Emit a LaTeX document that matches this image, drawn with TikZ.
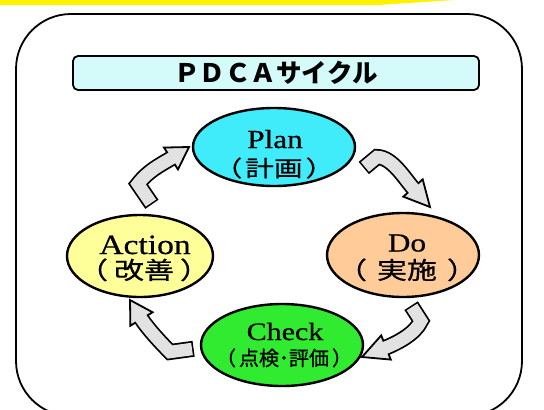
\documentclass[tikz,border=0pt]{standalone}
\usepackage{fontspec}
\setmainfont{Liberation Serif}
\newfontfamily\latinlab[FakeStretch=1.2,FakeBold=0.6]{Liberation Serif}
\newfontfamily\jpfont{Noto Sans CJK JP}
\newfontfamily\jplab[FakeBold=0.8]{Noto Sans CJK JP}
\newfontfamily\jpwideA[FakeStretch=1.3,FakeBold=0.8]{Noto Sans CJK JP}
\newfontfamily\jpwideB[FakeStretch=1.25,FakeBold=0.8]{Noto Sans CJK JP}
\usetikzlibrary{calc,shapes.geometric}
\definecolor{plancol}{RGB}{64,236,250}
\definecolor{docol}{RGB}{255,204,153}
\definecolor{actcol}{RGB}{255,255,153}
\definecolor{chkcol}{RGB}{48,235,48}
\definecolor{titlecol}{RGB}{212,250,250}
\definecolor{arrcol}{RGB}{226,226,226}
\newcommand\cell[1]{\makebox[1em][c]{#1}}
% parenthesised label with extra gap between brackets and text
\newcommand\paren[2]{（\kern#1#2\kern#1）}
\newcommand\blockarrow[6]{%
  \draw[arrout] ($#1!-1.6pt!#2$) -- #2 .. controls #3 and #4 .. #5;
  \filldraw[arrhead] ($#5!13pt!90:#6$) -- #6 -- ($#5!13pt!-90:#6$) -- cycle;
  \draw[arrin] #1 -- #2 .. controls #3 and #4 .. #5 -- ($#5!1.5pt!#6$);
}
\begin{document}
\begin{tikzpicture}[x=1pt,y=-1pt,
  phase/.style={ellipse, draw=black, line width=2.4pt, inner sep=0pt},
  lat/.style={font=\latinlab\fontsize{26}{30}\selectfont, anchor=base, inner sep=0pt},
  jp/.style={font=\jpwideA\fontsize{22}{26}\selectfont, anchor=base, inner sep=0pt},
  arrout/.style={line width=16pt, draw=black, line join=miter, line cap=butt},
  arrin/.style={line width=12.5pt, draw=arrcol, line join=miter, line cap=butt},
  arrhead/.style={fill=arrcol, draw=black, line width=1.8pt, line join=miter}]
\useasboundingbox (0,0) rectangle (544,410);
% top yellow band
\fill[yellow] (0,0) -- (455,0) -- (378,5) -- (0,5) -- cycle;
% outer frame
\draw[line width=1.8pt, rounded corners=55pt] (16,14) rectangle (522,416);
% title
\node[draw, line width=1.8pt, rounded corners=5pt, fill=titlecol,
      minimum width=406pt, minimum height=34pt, inner sep=0pt,
      font=\jpfont\bfseries\fontsize{25.5}{28}\selectfont] (title) at (276,73)
      {\cell{Ｐ}\cell{Ｄ}\cell{Ｃ}\cell{Ａ}\cell{サ}\cell{イ}\cell{ク}\cell{ル}};
% phases
\node[phase, fill=plancol, minimum width=162pt, minimum height=78pt] (plan) at (274,147) {};
\node[lat] (planen) at (275,148) {Plan};
\node[jp] (planjp) at (274,176.4) {\paren{3pt}{計画}};

\node[phase, fill=docol, minimum width=152pt, minimum height=84pt] (do) at (403,255) {};
\node[lat] (doen) at (407,251.5) {Do};
\node[jp, font=\jpwideB\fontsize{24}{28}\selectfont] (dojp) at (407,279) {\paren{10pt}{実施}};

\node[phase, fill=actcol, minimum width=146pt, minimum height=82pt] (act) at (140,256) {};
\node[lat, font=\latinlab\fontsize{28}{32}\selectfont] (acten) at (145,254) {Action};
\node[jp, font=\jpwideB\fontsize{24}{28}\selectfont] (actjp) at (144,279) {\paren{6pt}{改善}};

\node[phase, fill=chkcol, minimum width=162pt, minimum height=82pt] (chk) at (282,345) {};
\node[lat, font=\latinlab\fontsize{25}{30}\selectfont] (chken) at (285,340) {Check};
\node[jp, font=\jplab\fontsize{20}{24}\selectfont] (chkjp) at (284,365.5) {\paren{3pt}{点検･評価}};

% cycle arrows
\blockarrow{(151,203)}{(138,184)}{(148,171)}{(160,165)}{(171,158.5)}{(189,147)}
\blockarrow{(365,167)}{(377,157)}{(392,157)}{(405,179)}{(413,188)}{(430,207)}
\blockarrow{(412,307)}{(421,321)}{(415,334)}{(397,343)}{(386,347.5)}{(362,357)}
\blockarrow{(192,349)}{(170,352)}{(161,343)}{(148,329)}{(141.5,319)}{(130,300)}
\end{tikzpicture}
\end{document}
